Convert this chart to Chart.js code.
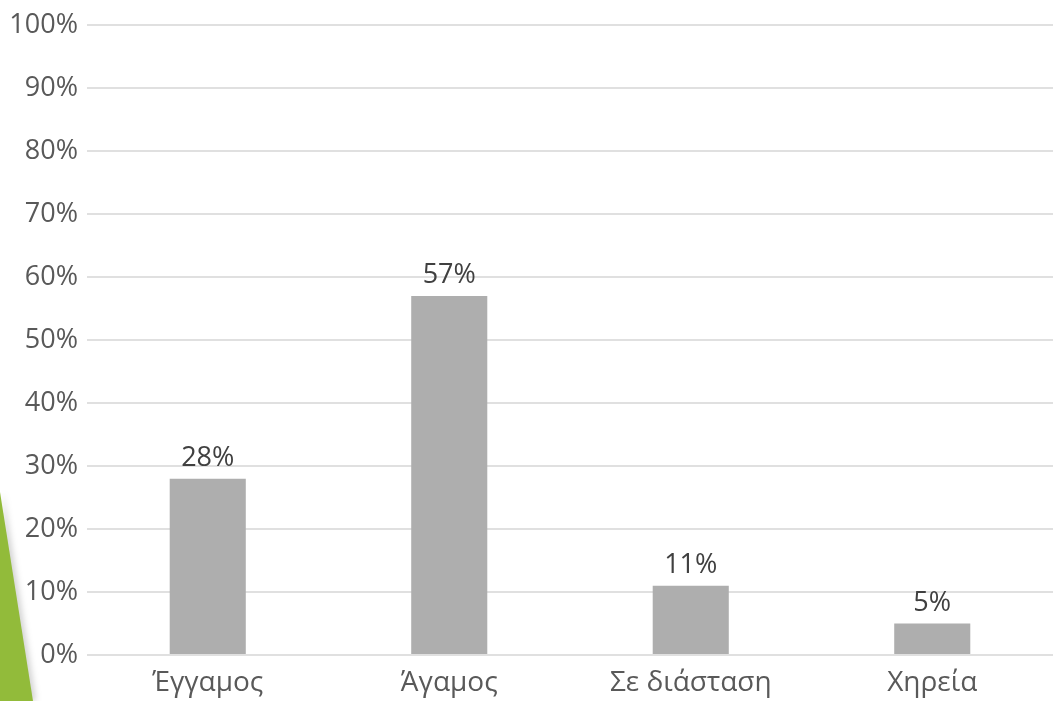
<!DOCTYPE html>
<html>
<head>
<meta charset="utf-8">
<script src="https://cdn.jsdelivr.net/npm/chart.js@4/dist/chart.umd.min.js"></script>
<style>
    html, body { margin: 0; padding: 0; background: #ffffff; }
    #wrap { position: relative; width: 1053px; height: 701px; overflow: hidden; }
    #accent {
        position: absolute; left: 0; top: 0; width: 1053px; height: 701px;
        filter: drop-shadow(3px 0 3px rgba(0, 0, 0, 0.18));
    }
    #accent div {
        width: 100%; height: 100%; background: #92bb3a;
        clip-path: polygon(0 492px, 33px 701px, 0 701px);
    }
    canvas { position: absolute; left: 0; top: 0; }
</style>
</head>
<body>
<div id="wrap">
    <div id="accent"><div></div></div>
    <canvas id="chart" width="1053" height="701"></canvas>
</div>
<script>
const categories = ['Έγγαμος', 'Άγαμος', 'Σε διάσταση', 'Χηρεία'];
const shares = [28, 57, 11, 5];
const yTicks = [0, 10, 20, 30, 40, 50, 60, 70, 80, 90, 100];

const fontFamily = '"Open Sans", "Noto Sans", sans-serif';

// writes the percentage above each bar
const barValueLabels = {
    id: 'barValueLabels',
    afterDatasetsDraw(chart) {
        const ctx = chart.ctx;
        const meta = chart.getDatasetMeta(0);
        ctx.save();
        ctx.font = '27px ' + fontFamily;
        ctx.fillStyle = '#404040';
        ctx.textAlign = 'center';
        ctx.textBaseline = 'alphabetic';
        meta.data.forEach((bar, i) => {
            ctx.fillText(shares[i] + '%', bar.x, bar.y - 13);
        });
        ctx.restore();
    }
};

const chart = new Chart(document.getElementById('chart').getContext('2d'), {
    type: 'bar',
    data: {
        labels: categories,
        datasets: [{
            data: shares,
            backgroundColor: '#aeaeae',
            barPercentage: 1,
            categoryPercentage: 0.315
        }]
    },
    options: {
        responsive: false,
        animation: false,
        layout: { padding: { top: 24, right: 0, bottom: 0, left: 0 } },
        plugins: {
            legend: { display: false },
            tooltip: { enabled: false }
        },
        scales: {
            x: {
                grid: { display: false },
                border: { display: false },
                ticks: {
                    color: '#595959',
                    font: { family: fontFamily, size: 28 },
                    padding: 3
                },
                afterFit(scale) { scale.height = 46; }
            },
            y: {
                min: 0,
                max: 100,
                afterBuildTicks(scale) {
                    scale.ticks = yTicks.map(v => ({ value: v }));
                },
                grid: { color: '#e0e0e0', lineWidth: 2, drawTicks: false },
                border: { display: false },
                ticks: {
                    color: '#595959',
                    font: { family: fontFamily, size: 27 },
                    padding: 9,
                    callback: v => v + '%'
                },
                afterFit(scale) { scale.width = 87; }
            }
        }
    },
    plugins: [barValueLabels]
});
</script>
</body>
</html>
